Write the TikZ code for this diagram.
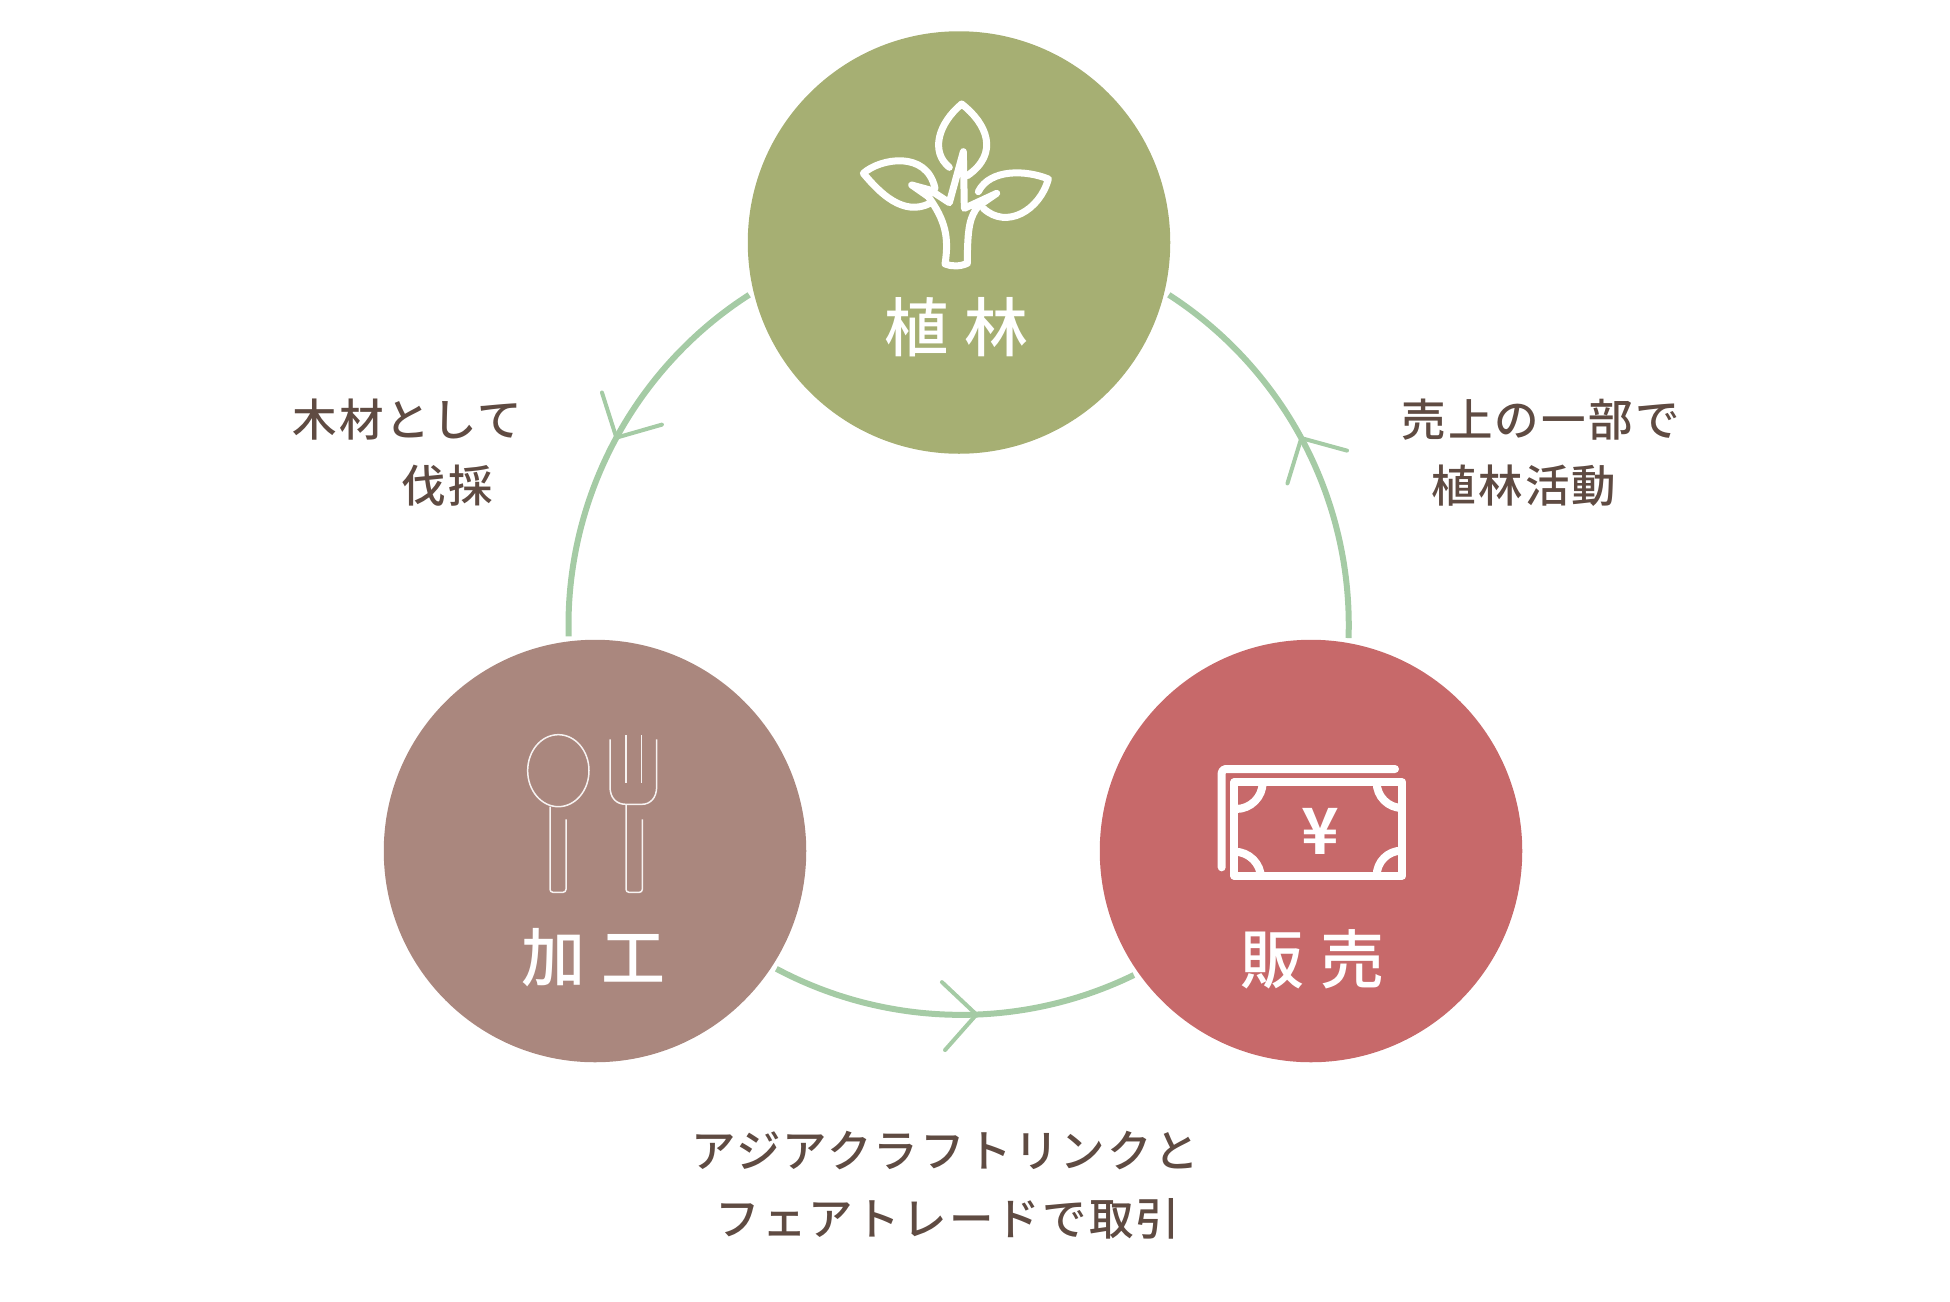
\documentclass[tikz,border=0pt]{standalone}
\usepackage{fontspec}
\usepackage{xcolor}
\usetikzlibrary{arrows.meta,decorations.markings}
\newfontfamily\bodyfont[LetterSpace=5]{Noto Sans CJK JP Medium}
\newfontfamily\titlefont[LetterSpace=25,BoldFont={Noto Sans CJK JP Bold}]{Noto Sans CJK JP Medium}
\definecolor{plantgreen}{RGB}{166,175,115}
\definecolor{workbrown}{RGB}{170,135,126}
\definecolor{salered}{RGB}{199,105,106}
\definecolor{cyclegreen}{RGB}{165,203,165}
\definecolor{textbrown}{RGB}{95,75,66}
\tikzset{
  stage/.style={circle,minimum size=422.5pt,inner sep=0pt,outer sep=5pt},
  stagename/.style={text=white,inner sep=0pt,font=\titlefont\fontsize{64}{70}\selectfont},
  note/.style={text=textbrown,inner sep=0pt,text height=38pt,text depth=5pt,font=\bodyfont\fontsize{44.5}{50}\selectfont},
  cyclearc/.style={cyclegreen,line width=6pt,postaction={decorate},decoration={markings,
    mark=at position #1 with {\arrow[cyclegreen,line width=4pt]{Straight Barb[length=33pt,width=68pt,line cap=round]}}}},
  treeline/.style={white,line width=7pt,line join=round,line cap=round},
  cutlery/.style={white!90!workbrown,line width=1.5pt},
  billline/.style={white,line width=8pt,line join=round}
}
\begin{document}
\begin{tikzpicture}[x=1pt,y=-1pt]
\useasboundingbox (0,0) rectangle (1950,1301);
\node[stage,fill=plantgreen] (planting) at (959,242.5) {};
\node[stage,fill=workbrown] (working) at (595,851) {};
\node[stage,fill=salered] (sales) at (1311,851) {};
\draw[cyclearc=0.495] (planting.194) to[bend right=29.5,looseness=0.91] (working.97);
\draw[cyclearc=0.567] (working.-33) to[bend right=27,looseness=0.9] (sales.215);
\draw[cyclearc=0.52] (sales.80) to[bend right=29.5,looseness=0.91] (planting.-14);
\node[stagename] (plantingname) at (956,327) {植林};
\node[stagename] (workingname) at (593,958) {加工};
\node[stagename] (salesname) at (1312,959) {販売};
\node[note] (woodone) at (407.5,420) {木材として};
\node[note] (woodtwo) at (447,486) {伐採};
\node[note] (shareone) at (1540.5,420) {売上の一部で};
\node[note] (sharetwo) at (1524,486) {植林活動};
\node[note] (tradeone) at (945,1151) {アジアクラフトリンクと};
\node[note] (tradetwo) at (948,1219) {フェアトレードで取引};
\begin{scope}[shift={(830,80)},scale=1/3]
\draw[treeline] (358,262) .. controls (300,215) and (325,130) .. (395,72) .. controls (470,130) and (510,220) .. (412,287);
\draw[treeline] (315,325) .. controls (290,210) and (150,235) .. (100,280) .. controls (150,340) and (220,410) .. (300,370);
\draw[treeline] (445,335) .. controls (480,265) and (590,270) .. (655,297) .. controls (630,390) and (530,450) .. (460,385);
\draw[treeline] (245,315) -- (300,330) -- (358,368) -- (400,215) -- (403,385) -- (500,340) -- (445,378)
  .. controls (420,410) and (412,440) .. (412,550) .. controls (390,560) and (365,560) .. (345,552)
  .. controls (358,470) and (345,420) .. (295,350) -- cycle;
\end{scope}
\begin{scope}[shift={(500,710)},scale=1/3]
\draw[cutlery] (175,182) ellipse (92 and 108);
\draw[cutlery,rounded corners=3pt] (150,290) -- (150,547) -- (198,547) -- (198,328);
\draw[cutlery] (330,88) -- (330,230) .. controls (330,265) and (350,283) .. (378,283) -- (425,283) .. controls (450,283) and (470,265) .. (470,230) -- (470,88);
\draw[cutlery] (378,75) -- (378,220);
\draw[cutlery] (425,75) -- (425,220);
\draw[cutlery,rounded corners=3pt] (378,283) -- (378,547) -- (427,547) -- (427,328);
\end{scope}
\begin{scope}[shift={(1200,750)},scale=1/3]
\draw[billline,line cap=round,rounded corners=4pt] (65,352) -- (65,57) -- (585,57);
\draw[billline] (103,97) rectangle (607,377);
\draw[billline] (188,97) arc[start angle=0,end angle=90,radius=80];
\draw[billline] (530,97) arc[start angle=180,end angle=90,radius=77];
\draw[billline] (103,305) arc[start angle=-90,end angle=0,radius=80];
\draw[billline] (530,377) arc[start angle=180,end angle=270,radius=75];
\node[text=white,inner sep=0pt,font=\titlefont\bfseries\fontsize{64}{70}\selectfont] (yen) at (360,245) {¥};
\end{scope}
\end{tikzpicture}
\end{document}
